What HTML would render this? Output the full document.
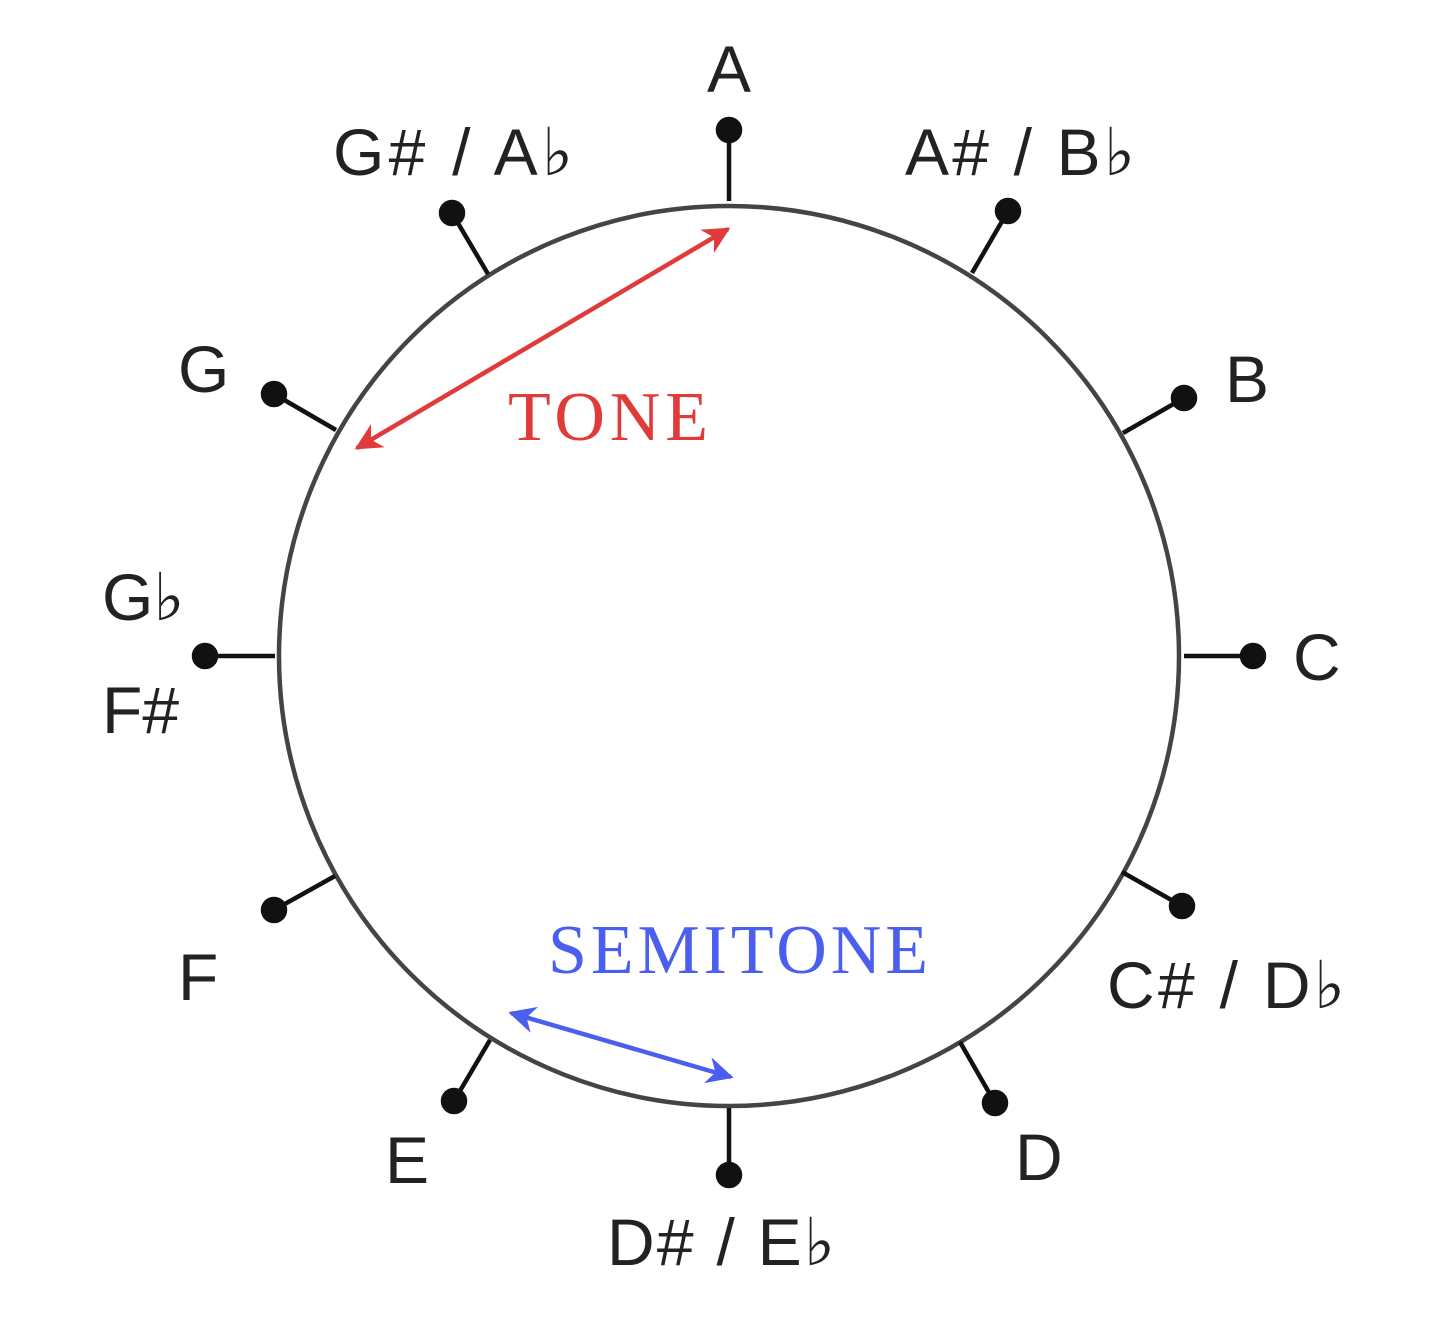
<!DOCTYPE html>
<html><head><meta charset="utf-8"><style>html,body{margin:0;padding:0;background:#fff}svg{display:block}</style></head>
<body>
<svg width="1442" height="1340" viewBox="0 0 1442 1340" xmlns="http://www.w3.org/2000/svg">
<defs>
<marker id="ar" viewBox="0 0 10 10" refX="9" refY="5" markerWidth="6" markerHeight="6" orient="auto-start-reverse"><path d="M0,0 L10,5 L0,10 L3,5 z" fill="#e03a3a"/></marker>
<marker id="ab" viewBox="0 0 10 10" refX="9" refY="5" markerWidth="6" markerHeight="6" orient="auto-start-reverse"><path d="M0,0 L10,5 L0,10 L3,5 z" fill="#4a5ff0"/></marker>
</defs>
<circle cx="729" cy="656" r="450" fill="none" stroke="#444" stroke-width="4.5"/>
<g stroke="#111" stroke-width="4.5" fill="#111">
<line x1="729" y1="201" x2="729" y2="130"/><circle cx="729" cy="130" r="11"/>
<line x1="972" y1="273" x2="1008" y2="211"/><circle cx="1008" cy="211" r="11"/>
<line x1="1123" y1="433" x2="1184" y2="398"/><circle cx="1184" cy="398" r="11"/>
<line x1="1184" y1="656" x2="1253" y2="656"/><circle cx="1253" cy="656" r="11"/>
<line x1="1122" y1="872" x2="1182" y2="906"/><circle cx="1182" cy="906" r="11"/>
<line x1="960" y1="1042" x2="995" y2="1103"/><circle cx="995" cy="1103" r="11"/>
<line x1="729" y1="1108" x2="729" y2="1175"/><circle cx="729" cy="1175" r="11"/>
<line x1="490" y1="1040" x2="454" y2="1101"/><circle cx="454" cy="1101" r="11"/>
<line x1="335" y1="876" x2="274" y2="910"/><circle cx="274" cy="910" r="11"/>
<line x1="275" y1="656" x2="205" y2="656"/><circle cx="205" cy="656" r="11"/>
<line x1="336" y1="430" x2="274" y2="394"/><circle cx="274" cy="394" r="11"/>
<line x1="488" y1="274" x2="452" y2="213"/><circle cx="452" cy="213" r="11"/>
</g>
<line x1="728" y1="229" x2="357" y2="448" stroke="#e03a3a" stroke-width="4.5" marker-start="url(#ar)" marker-end="url(#ar)"/>
<line x1="511" y1="1013" x2="731" y2="1077" stroke="#4a5ff0" stroke-width="4.5" marker-start="url(#ab)" marker-end="url(#ab)"/>
<g font-family="Liberation Sans, DejaVu Sans, sans-serif" font-size="66" fill="#222">
<text x="729" y="92" text-anchor="middle">A</text>
<text x="333" y="175" textLength="240">G# / A♭</text>
<text x="905" y="175" textLength="230">A# / B♭</text>
<text x="1225" y="402">B</text>
<text x="178" y="392">G</text>
<text x="102" y="620">G♭</text>
<text x="102" y="733">F#</text>
<text x="1293" y="680">C</text>
<text x="1107" y="1008" textLength="238">C# / D♭</text>
<text x="178" y="1000">F</text>
<text x="385" y="1183">E</text>
<text x="1015" y="1180">D</text>
<text x="607" y="1265" textLength="228">D# / E♭</text>
</g>
<text x="508" y="440" font-family="Liberation Serif, serif" font-size="70" fill="#e03a3a" textLength="200">TONE</text>
<text x="548" y="973" font-family="Liberation Serif, serif" font-size="70" fill="#4a5ff0" textLength="380">SEMITONE</text>
</svg>
</body></html>
